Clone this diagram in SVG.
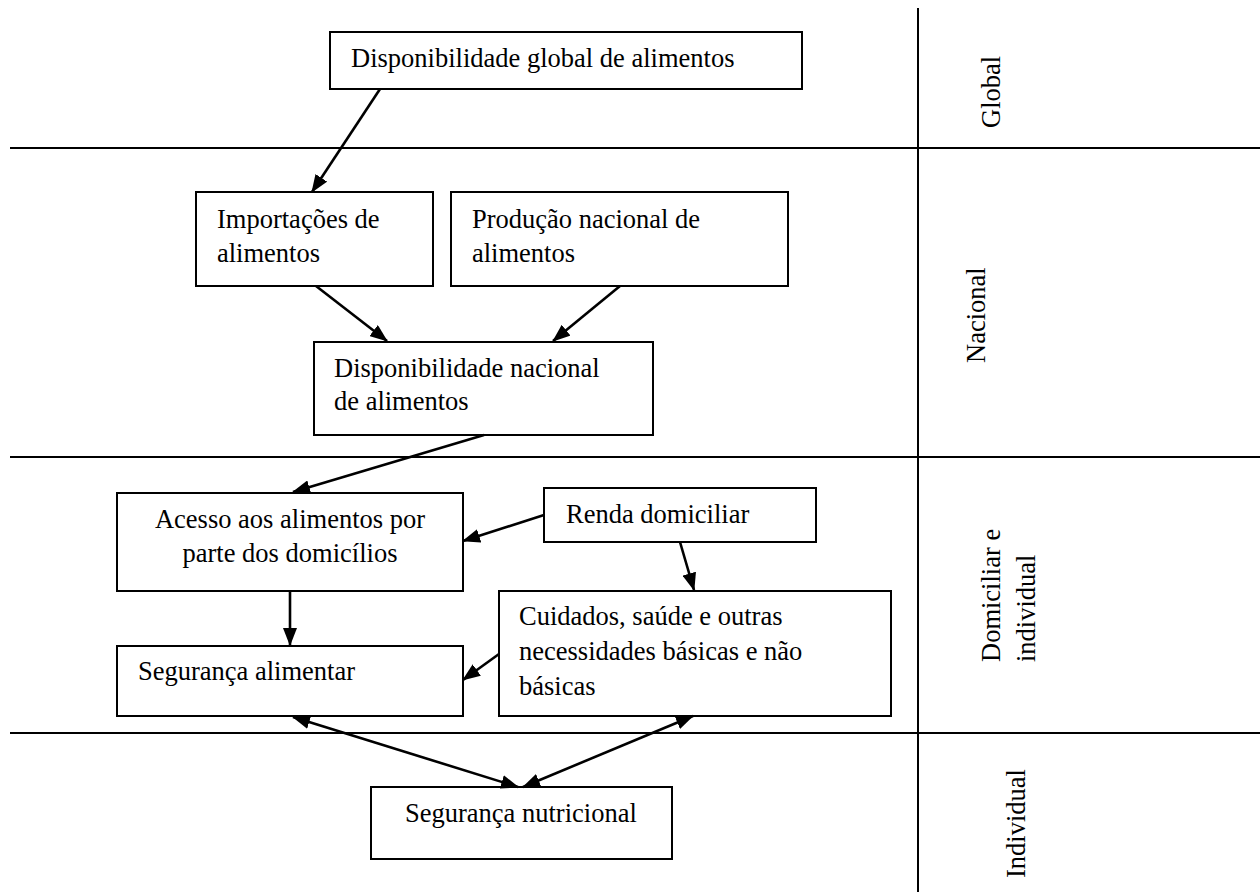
<svg xmlns="http://www.w3.org/2000/svg" width="1260" height="892" viewBox="0 0 1260 892">
<style>
.box{fill:#fff;stroke:#000;stroke-width:2}
.t{font-family:"Liberation Serif","Times New Roman",Times,serif;font-size:26.5px;fill:#000}
.grid{stroke:#000;stroke-width:2;fill:none}
.c{stroke:#000;stroke-width:2.6;fill:none;marker-end:url(#ah)}
.d{stroke:#000;stroke-width:2.6;fill:none;marker-end:url(#ah);marker-start:url(#ah)}
</style>
<defs>
<marker id="ah" viewBox="0 0 18 14" refX="17" refY="7" markerWidth="18" markerHeight="14" markerUnits="userSpaceOnUse" orient="auto-start-reverse">
<path d="M0,0 L18,7 L0,14 z" fill="#000"/>
</marker>
</defs>
<g id="grid">
<line class="grid" x1="10" y1="148" x2="1260" y2="148"/>
<line class="grid" x1="10" y1="457" x2="1260" y2="457"/>
<line class="grid" x1="10" y1="733" x2="1260" y2="733"/>
<line class="grid" x1="918" y1="8" x2="918" y2="892"/>
</g>
<g id="levels">
<text class="t" transform="translate(1000,128) rotate(-90)">Global</text>
<text class="t" transform="translate(985,363) rotate(-90)">Nacional</text>
<text class="t" transform="translate(1000,662) rotate(-90)">Domiciliar e</text>
<text class="t" transform="translate(1035,662) rotate(-90)">individual</text>
<text class="t" transform="translate(1025,878) rotate(-90)">Individual</text>
</g>
<g id="n-global">
<rect class="box" x="330" y="32" width="472" height="57"/>
<text class="t" x="351" y="67">Disponibilidade global de alimentos</text>
</g>
<g id="n-importacoes">
<rect class="box" x="196" y="192" width="237" height="94"/>
<text class="t" x="217" y="228">Importações de</text>
<text class="t" x="217" y="262">alimentos</text>
</g>
<g id="n-producao">
<rect class="box" x="451" y="192" width="337" height="94"/>
<text class="t" x="472" y="228">Produção nacional de</text>
<text class="t" x="472" y="262">alimentos</text>
</g>
<g id="n-nacional">
<rect class="box" x="314" y="342" width="339" height="93"/>
<text class="t" x="334" y="377">Disponibilidade nacional</text>
<text class="t" x="334" y="410">de alimentos</text>
</g>
<g id="n-acesso">
<rect class="box" x="117" y="493" width="346" height="98"/>
<text class="t" x="290" y="528" text-anchor="middle">Acesso aos alimentos por</text>
<text class="t" x="290" y="562" text-anchor="middle">parte dos domicílios</text>
</g>
<g id="n-renda">
<rect class="box" x="544" y="488" width="272" height="54"/>
<text class="t" x="566" y="523">Renda domiciliar</text>
</g>
<g id="n-cuidados">
<rect class="box" x="499" y="591" width="392" height="125"/>
<text class="t" x="519" y="625">Cuidados, saúde e outras</text>
<text class="t" x="519" y="660">necessidades básicas e não</text>
<text class="t" x="519" y="695">básicas</text>
</g>
<g id="n-seg-alimentar">
<rect class="box" x="117" y="646" width="346" height="70"/>
<text class="t" x="138" y="680">Segurança alimentar</text>
</g>
<g id="n-seg-nutricional">
<rect class="box" x="371" y="787" width="301" height="72"/>
<text class="t" x="405" y="822">Segurança nutricional</text>
</g>
<g id="connectors">
<line class="c" x1="380" y1="89" x2="312" y2="192"/>
<line class="c" x1="316" y1="286" x2="387" y2="341"/>
<line class="c" x1="620" y1="286" x2="553" y2="341"/>
<line class="c" x1="484" y1="435" x2="293" y2="492"/>
<line class="c" x1="544" y1="515" x2="463" y2="541"/>
<line class="c" x1="680" y1="542" x2="694" y2="590"/>
<line class="c" x1="290" y1="591" x2="290" y2="645"/>
<line class="c" x1="499" y1="654" x2="463" y2="680"/>
<line class="d" x1="293" y1="717" x2="518" y2="787"/>
<line class="d" x1="693" y1="716" x2="523" y2="787"/>
</g>
</svg>
